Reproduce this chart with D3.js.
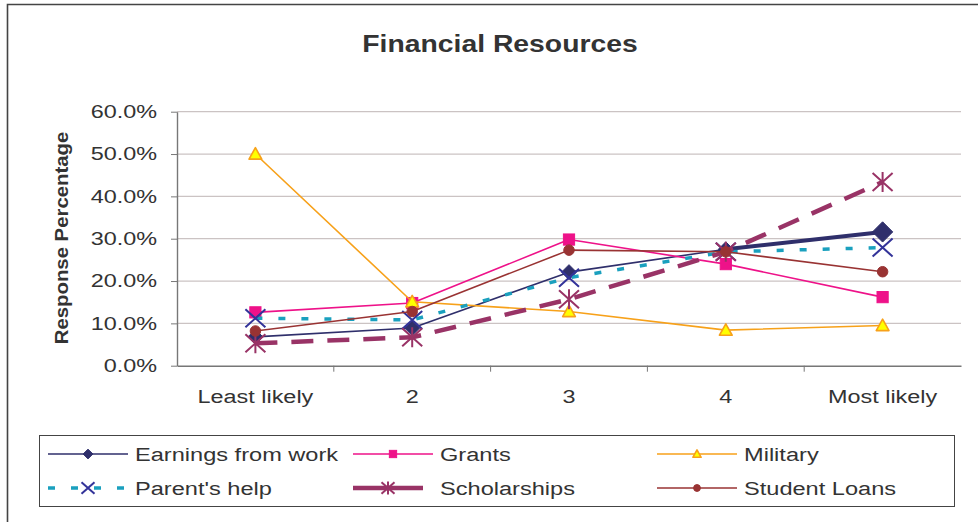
<!DOCTYPE html>
<html>
<head>
<meta charset="utf-8">
<script src="https://cdn.jsdelivr.net/npm/d3@7"></script>
<style>
  html, body { margin: 0; padding: 0; background: #fff; }
  svg { display: block; font-family: "Liberation Sans", Arial, sans-serif; }
</style>
</head>
<body>
<svg id="chart" width="978" height="522"></svg>
<script>
// Survey categories (x axis) and y tick values (percent)
const categories = ["Least likely", "2", "3", "4", "Most likely"];
const yTicks = [0, 10, 20, 30, 40, 50, 60];

// Response percentages per financial resource
const earnings     = [6.8, 8.9, 22.1, 27.5, 31.6];
const grants       = [12.6, 14.8, 29.8, 24.0, 16.2];
const military     = [50.0, 15.1, 12.8, 8.4, 9.5];
const parentsHelp  = [11.2, 10.8, 20.8, 26.9, 27.9];
const scholarships = [5.3, 6.7, 15.7, 26.9, 43.4];
const studentLoans = [8.2, 12.8, 27.3, 26.9, 22.2];

const seriesNames = ["Earnings from work", "Grants", "Military", "Parent's help", "Scholarships", "Student Loans"];
const seriesValues = [earnings, grants, military, parentsHelp, scholarships, studentLoans];

// Drawing style for each series
const styles = [
  { line: "#2f2f6b", width: 1.6, dash: null, legendDash: null, marker: "diamond", fill: "#2f2f6b", stroke: "#2f2f6b" },
  { line: "#ee1289", width: 1.6, dash: null, legendDash: null, marker: "square", fill: "#ee1289", stroke: "#ee1289" },
  { line: "#f7a11a", width: 1.6, dash: null, legendDash: null, marker: "triangle", fill: "#ffff00", stroke: "#f7a11a" },
  { line: "#1aa0be", width: 3.5, dash: "7,16", legendDash: "7,16", marker: "x", fill: "none", stroke: "#333399" },
  { line: "#993366", width: 4.5, dash: "22,14", legendDash: null, marker: "star", fill: "none", stroke: "#993366" },
  { line: "#993333", width: 1.6, dash: null, legendDash: null, marker: "circle", fill: "#993333", stroke: "#993333" }
];

const svg = d3.select("#chart");
const textColor = "#333333";

// Widen rendered text horizontally by factor k
function widen(sel, k) {
  sel.each(function () {
    const w = this.getComputedTextLength();
    d3.select(this).attr("textLength", w * k).attr("lengthAdjust", "spacingAndGlyphs");
  });
}

// Outer frame (top and left edges)
svg.append("path")
  .attr("d", "M7.5,522 V4.5 H978")
  .attr("fill", "none").attr("stroke", "#444").attr("stroke-width", 1.6);

// Plot area
const plot = { left: 177, right: 961, top: 111.7, bottom: 365.7 };

const x = d3.scaleBand().domain(categories).range([plot.left, plot.right]);
const y = d3.scaleLinear().domain([0, 60]).range([plot.bottom, plot.top]);
const cx = c => x(c) + x.bandwidth() / 2;

// Title
svg.append("text")
  .attr("x", 500).attr("y", 52)
  .attr("text-anchor", "middle")
  .attr("font-size", 24).attr("font-weight", "bold")
  .attr("fill", textColor)
  .text("Financial Resources")
  .call(widen, 1.18);

// Horizontal gridlines
svg.append("g").selectAll("line")
  .data(yTicks.filter(t => t > 0))
  .join("line")
  .attr("x1", plot.left).attr("x2", plot.right)
  .attr("y1", d => y(d)).attr("y2", d => y(d))
  .attr("stroke", "#cbc3c3").attr("stroke-width", 1.2);

// Y axis
const yAxis = svg.append("g")
  .attr("transform", `translate(${plot.left},0)`)
  .call(d3.axisLeft(y).tickValues(yTicks).tickFormat(d => d3.format(".1f")(d) + "%")
    .tickSize(6).tickSizeOuter(0).tickPadding(14));
yAxis.select(".domain").attr("stroke", "#777").attr("stroke-width", 1.4);
yAxis.selectAll(".tick line").attr("stroke", "#777");
yAxis.selectAll(".tick text")
  .attr("font-size", 18).attr("fill", textColor)
  .attr("font-family", "Liberation Sans, Arial, sans-serif")
  .call(widen, 1.3);

// X axis
const xAxis = svg.append("g")
  .attr("transform", `translate(0,${plot.bottom})`)
  .call(d3.axisBottom(x).tickSize(0).tickSizeOuter(0).tickPadding(0));
xAxis.select(".domain").attr("stroke", "#777").attr("stroke-width", 1.6);
xAxis.selectAll(".tick text")
  .attr("y", 37).attr("dy", 0)
  .attr("font-size", 18).attr("fill", textColor)
  .attr("font-family", "Liberation Sans, Arial, sans-serif")
  .call(widen, 1.3);
// Tick marks between categories
xAxis.append("g").selectAll("line")
  .data(categories.slice(1))
  .join("line")
  .attr("x1", d => x(d)).attr("x2", d => x(d))
  .attr("y1", 0).attr("y2", 6)
  .attr("stroke", "#777").attr("stroke-width", 1);

// Y axis title
svg.append("text")
  .attr("transform", "translate(68,238) rotate(-90)")
  .attr("text-anchor", "middle")
  .attr("font-size", 18).attr("font-weight", "bold")
  .attr("fill", textColor)
  .text("Response Percentage")
  .call(widen, 1.13);

// Marker drawing
function drawMarker(g, type, st, px, py, s) {
  if (type === "diamond") {
    g.append("path").attr("d", `M${px},${py - s} L${px + s},${py} L${px},${py + s} L${px - s},${py} Z`)
      .attr("fill", st.fill).attr("stroke", st.stroke).attr("stroke-width", 1);
  } else if (type === "square") {
    const h = s * 0.8;
    g.append("rect").attr("x", px - h).attr("y", py - h).attr("width", 2 * h).attr("height", 2 * h)
      .attr("fill", st.fill).attr("stroke", st.stroke).attr("stroke-width", 1);
  } else if (type === "triangle") {
    const h = s * 0.85;
    g.append("path").attr("d", `M${px},${py - h} L${px + h},${py + h * 0.8} L${px - h},${py + h * 0.8} Z`)
      .attr("fill", st.fill).attr("stroke", st.stroke).attr("stroke-width", 1.6).attr("stroke-linejoin", "round");
  } else if (type === "x") {
    g.append("path").attr("d", `M${px - s},${py - s * 0.9} L${px + s},${py + s * 0.9} M${px - s},${py + s * 0.9} L${px + s},${py - s * 0.9}`)
      .attr("fill", "none").attr("stroke", st.stroke).attr("stroke-width", 2);
  } else if (type === "star") {
    g.append("path").attr("d", `M${px - s},${py - s * 0.9} L${px + s},${py + s * 0.9} M${px - s},${py + s * 0.9} L${px + s},${py - s * 0.9} M${px},${py - s} L${px},${py + s}`)
      .attr("fill", "none").attr("stroke", st.stroke).attr("stroke-width", 2);
  } else if (type === "circle") {
    g.append("circle").attr("cx", px).attr("cy", py).attr("r", s * 0.75)
      .attr("fill", st.fill).attr("stroke", st.stroke).attr("stroke-width", 1);
  }
}

const markerSize = { diamond: 7.5, square: 7, triangle: 7.5, x: 10, star: 10, circle: 7 };

const lineAt = offset => d3.line().x((d, i) => cx(categories[offset + i])).y(d => y(d));

seriesValues.forEach((vals, si) => {
  const st = styles[si];
  const g = svg.append("g");
  g.append("path")
    .attr("d", lineAt(0)(vals))
    .attr("fill", "none").attr("stroke", st.line).attr("stroke-width", st.width)
    .attr("stroke-dasharray", st.dash).attr("stroke-linejoin", "round");
  if (si === 0) {
    // last segment of earnings drawn heavier
    const n = vals.length;
    g.append("path")
      .attr("d", lineAt(n - 2)(vals.slice(n - 2)))
      .attr("fill", "none").attr("stroke", st.line).attr("stroke-width", 4);
  }
  vals.forEach((v, i) => {
    const big = si === 0 && i === vals.length - 1;
    drawMarker(g, st.marker, st, cx(categories[i]), y(v), markerSize[st.marker] * (big ? 1.35 : 1));
  });
});

// Legend
const legend = svg.append("g");
legend.append("rect")
  .attr("x", 39.5).attr("y", 435.5).attr("width", 915).attr("height", 71)
  .attr("fill", "#fff").attr("stroke", "#444").attr("stroke-width", 1);

const colX = [48, 353, 657];
const rowY = [454, 488];
seriesNames.forEach((name, i) => {
  const st = styles[i];
  const lx = colX[i % 3], ly = rowY[Math.floor(i / 3)];
  const sampleLen = i === 4 ? 70 : 80;
  const item = legend.append("g");
  item.append("line")
    .attr("x1", lx).attr("x2", lx + sampleLen).attr("y1", ly).attr("y2", ly)
    .attr("stroke", st.line).attr("stroke-width", st.width)
    .attr("stroke-dasharray", st.legendDash);
  drawMarker(item, st.marker, st, lx + sampleLen / 2, ly, markerSize[st.marker] * 0.65);
  item.append("text")
    .attr("x", lx + 87).attr("y", ly + 6.5)
    .attr("font-size", 18).attr("fill", textColor)
    .text(name)
    .call(widen, 1.31);
});
</script>
</body>
</html>
